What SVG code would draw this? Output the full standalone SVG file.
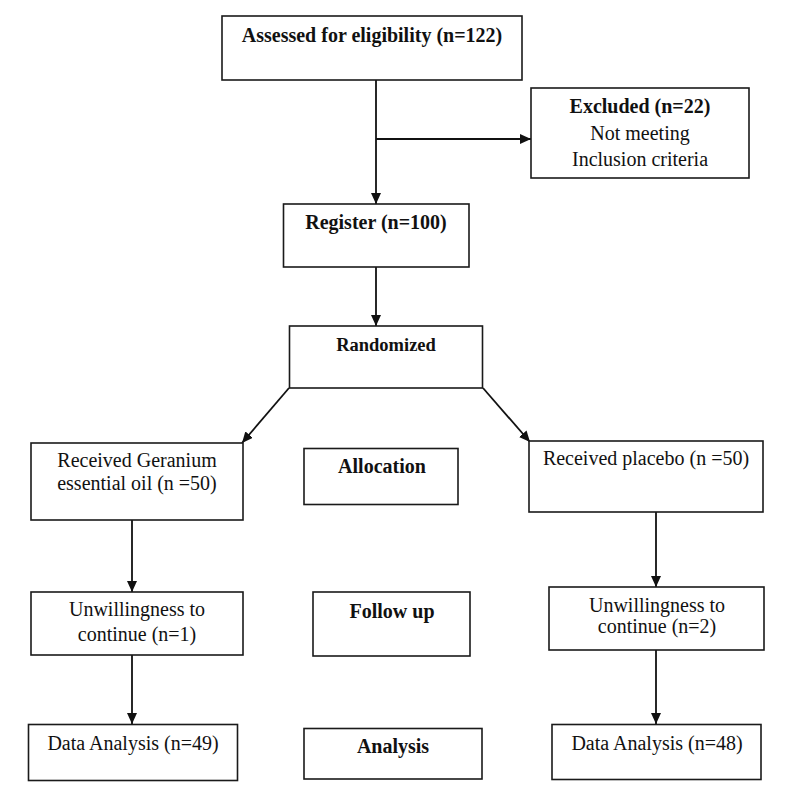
<svg xmlns="http://www.w3.org/2000/svg" width="788" height="796" viewBox="0 0 788 796">
<style>
.box{fill:#fff;stroke:#1a1a1a;stroke-width:1.6}
.t{font-family:"Liberation Serif","Times New Roman",serif;font-size:20px;fill:#111;text-anchor:middle}
.b{font-weight:bold}
.r{font-family:"Liberation Serif","Times New Roman",serif;font-size:18.5px;font-weight:bold;fill:#111;text-anchor:middle}
.c{stroke:#111;stroke-width:1.8;fill:none;marker-end:url(#ah)}
</style>
<defs>
<marker id="ah" markerUnits="userSpaceOnUse" markerWidth="12" markerHeight="10" refX="11" refY="5" orient="auto">
<path d="M0,0 L11,5 L0,10 Z" fill="#111"/>
</marker>
</defs>
<rect width="788" height="796" fill="#fff"/>
<g id="connectors">
<line class="c" x1="376" y1="80" x2="376" y2="204"/>
<line class="c" x1="376" y1="139" x2="531" y2="139"/>
<line class="c" x1="376" y1="267" x2="376" y2="326"/>
<line class="c" x1="289" y1="388" x2="242" y2="443"/>
<line class="c" x1="483" y1="388" x2="530" y2="442"/>
<line class="c" x1="132" y1="520" x2="132" y2="592"/>
<line class="c" x1="132" y1="655" x2="132" y2="724"/>
<line class="c" x1="656" y1="512" x2="656" y2="587"/>
<line class="c" x1="656" y1="650" x2="656" y2="724"/>
</g>
<g id="assessed">
<rect class="box" x="222" y="16" width="300" height="64"/>
<text class="t b" x="372" y="42">Assessed for eligibility (n=122)</text>
</g>
<g id="excluded">
<rect class="box" x="531" y="88" width="218" height="90"/>
<text class="t b" x="640" y="113">Excluded (n=22)</text>
<text class="t" x="640" y="140">Not meeting</text>
<text class="t" x="640" y="166">Inclusion criteria</text>
</g>
<g id="register">
<rect class="box" x="283.5" y="204" width="185.5" height="63"/>
<text class="t b" x="376" y="229">Register (n=100)</text>
</g>
<g id="randomized">
<rect class="box" x="289.5" y="326" width="193" height="62"/>
<text class="r" x="386" y="351">Randomized</text>
</g>
<g id="geranium">
<rect class="box" x="31" y="443" width="212" height="77"/>
<text class="t" x="137" y="467">Received Geranium</text>
<text class="t" x="137" y="490">essential oil (n =50)</text>
</g>
<g id="allocation">
<rect class="box" x="304" y="448.5" width="154" height="56"/>
<text class="t b" x="382" y="473">Allocation</text>
</g>
<g id="placebo">
<rect class="box" x="529" y="441" width="234" height="71"/>
<text class="t" x="646" y="465">Received placebo (n =50)</text>
</g>
<g id="unwilling1">
<rect class="box" x="31" y="592" width="212" height="63"/>
<text class="t" x="137" y="616">Unwillingness to</text>
<text class="t" x="137" y="641">continue (n=1)</text>
</g>
<g id="followup">
<rect class="box" x="313" y="592" width="157" height="64"/>
<text class="t b" x="392" y="618">Follow up</text>
</g>
<g id="unwilling2">
<rect class="box" x="549" y="587" width="215" height="63"/>
<text class="t" x="657" y="612">Unwillingness to</text>
<text class="t" x="657" y="633">continue (n=2)</text>
</g>
<g id="analysis1">
<rect class="box" x="28.5" y="724.5" width="209" height="56"/>
<text class="t" x="133" y="750">Data Analysis (n=49)</text>
</g>
<g id="analysis">
<rect class="box" x="304" y="728.5" width="178" height="50.5"/>
<text class="t b" x="393" y="753">Analysis</text>
</g>
<g id="analysis2">
<rect class="box" x="552" y="724.5" width="209" height="55"/>
<text class="t" x="657" y="750">Data Analysis (n=48)</text>
</g>
</svg>
